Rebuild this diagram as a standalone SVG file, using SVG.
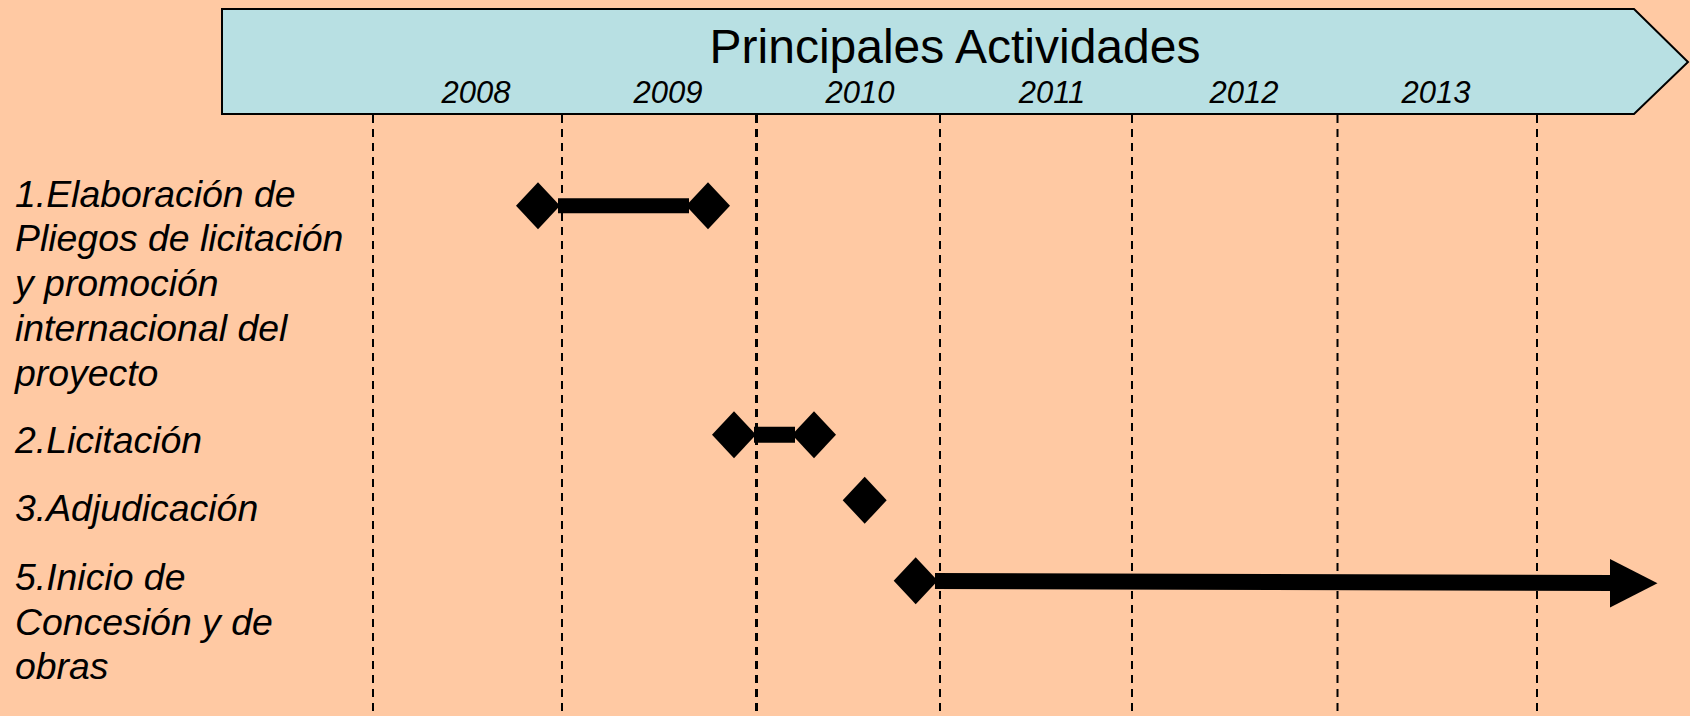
<svg xmlns="http://www.w3.org/2000/svg" width="1690" height="716" viewBox="0 0 1690 716">
<style>
.bg{fill:#FFC9A3}
.banner{fill:#B8E0E3;stroke:#000;stroke-width:2}
.title{font-family:"Liberation Sans",Arial,sans-serif;font-size:48px;fill:#000}
.year{font-family:"Liberation Sans",Arial,sans-serif;font-size:31px;font-style:italic;fill:#000}
.label{font-family:"Liberation Sans",Arial,sans-serif;font-size:37.4px;font-style:italic;fill:#000}
.grid{stroke:#000;stroke-width:2;stroke-dasharray:8 6;fill:none}
.bar{stroke:#000;fill:none}
.ms{fill:#000}
</style>
<defs>
<polygon id="dia" points="0,-23.5 22,0 0,23.5 -22,0"/>
</defs>
<rect class="bg" x="0" y="0" width="1690" height="716"/>
<g id="grid">
<line class="grid" x1="373" y1="115" x2="373" y2="716"/>
<line class="grid" x1="562" y1="115" x2="562" y2="716"/>
<line class="grid" x1="756.5" y1="115" x2="756.5" y2="716" style="stroke-width:3"/>
<line class="grid" x1="940" y1="115" x2="940" y2="716"/>
<line class="grid" x1="1132" y1="115" x2="1132" y2="716"/>
<line class="grid" x1="1337.5" y1="115" x2="1337.5" y2="716"/>
<line class="grid" x1="1537" y1="115" x2="1537" y2="716"/>
</g>
<g id="header">
<polygon class="banner" points="222,9 1634,9 1688,62 1634,114 222,114"/>
<text class="title" x="955" y="62.5" text-anchor="middle">Principales Actividades</text>
<text class="year" x="476" y="103" text-anchor="middle">2008</text>
<text class="year" x="668" y="103" text-anchor="middle">2009</text>
<text class="year" x="860" y="103" text-anchor="middle">2010</text>
<text class="year" x="1052" y="103" text-anchor="middle">2011</text>
<text class="year" x="1244" y="103" text-anchor="middle">2012</text>
<text class="year" x="1436" y="103" text-anchor="middle">2013</text>
</g>
<g id="label-1">
<text class="label" x="15" y="206.5">1.Elaboración de</text>
<text class="label" x="15" y="251">Pliegos de licitación</text>
<text class="label" x="15" y="295.5">y promoción</text>
<text class="label" x="15" y="340.5">internacional del</text>
<text class="label" x="15" y="385.5">proyecto</text>
</g>
<g id="label-2"><text class="label" x="15" y="453">2.Licitación</text></g>
<g id="label-3"><text class="label" x="15" y="521">3.Adjudicación</text></g>
<g id="label-5">
<text class="label" x="15" y="590">5.Inicio de</text>
<text class="label" x="15" y="634.5">Concesión y de</text>
<text class="label" x="15" y="679">obras</text>
</g>
<g id="connectors">
<line class="bar" x1="558" y1="205.8" x2="689" y2="205.8" stroke-width="15"/>
<line class="bar" x1="754" y1="434.8" x2="795" y2="434.8" stroke-width="16"/>
<line class="bar" x1="935" y1="581" x2="1612" y2="583" stroke-width="16"/>
<polygon class="ms" points="1610,559 1657.5,583.3 1610,607.5"/>
</g>
<g id="ms-1a"><use href="#dia" class="ms" x="538" y="205.7"/></g>
<g id="ms-1b"><use href="#dia" class="ms" x="708" y="205.7"/></g>
<g id="ms-2a"><use href="#dia" class="ms" x="734" y="434.8"/></g>
<g id="ms-2b"><use href="#dia" class="ms" x="814" y="434.8"/></g>
<g id="ms-3"><use href="#dia" class="ms" x="864.7" y="500.3"/></g>
<g id="ms-5"><use href="#dia" class="ms" x="915.7" y="580.8"/></g>
</svg>
